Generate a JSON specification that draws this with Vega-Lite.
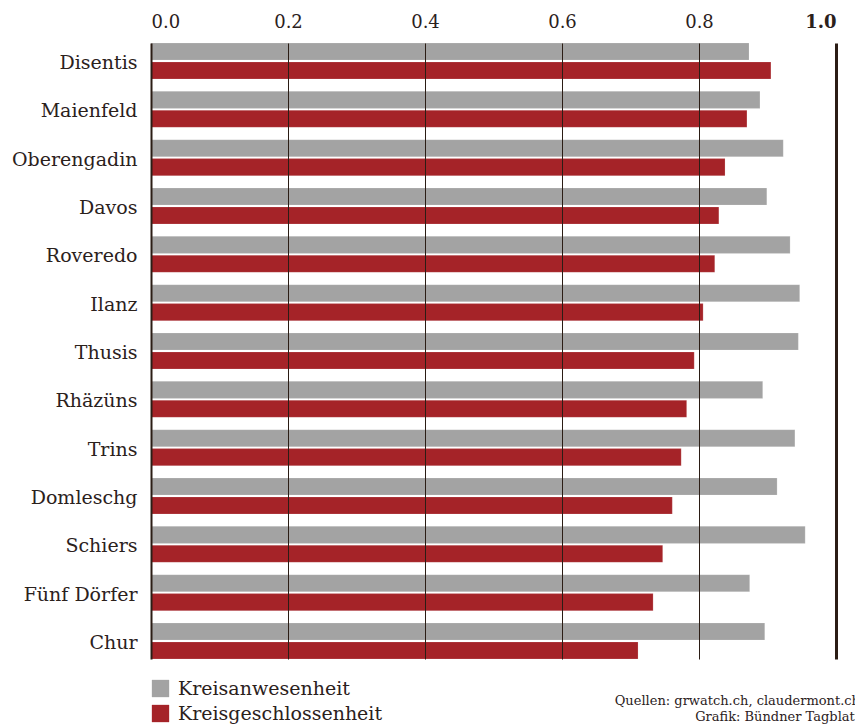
{
  "$schema": "https://vega.github.io/schema/vega-lite/v6.json",
  "autosize": "none",
  "width": 685,
  "height": 616,
  "padding": {"left": 151, "top": 43, "right": 19, "bottom": 67},
  "background": "white",
  "title": {
    "text": ["Quellen: grwatch.ch, claudermont.ch", "Grafik: Bündner Tagblatt"],
    "orient": "bottom",
    "anchor": "end",
    "frame": "group",
    "align": "right",
    "dx": 24,
    "offset": -29,
    "font": "DejaVu Serif",
    "fontSize": 13,
    "fontWeight": "normal",
    "color": "#2b211c",
    "lineHeight": 16
  },
  "data": {
    "values": [
      {"Kreis": "Disentis", "Serie": "Kreisanwesenheit", "Wert": 0.873},
      {"Kreis": "Disentis", "Serie": "Kreisgeschlossenheit", "Wert": 0.905},
      {"Kreis": "Maienfeld", "Serie": "Kreisanwesenheit", "Wert": 0.889},
      {"Kreis": "Maienfeld", "Serie": "Kreisgeschlossenheit", "Wert": 0.870},
      {"Kreis": "Oberengadin", "Serie": "Kreisanwesenheit", "Wert": 0.923},
      {"Kreis": "Oberengadin", "Serie": "Kreisgeschlossenheit", "Wert": 0.838},
      {"Kreis": "Davos", "Serie": "Kreisanwesenheit", "Wert": 0.899},
      {"Kreis": "Davos", "Serie": "Kreisgeschlossenheit", "Wert": 0.829},
      {"Kreis": "Roveredo", "Serie": "Kreisanwesenheit", "Wert": 0.933},
      {"Kreis": "Roveredo", "Serie": "Kreisgeschlossenheit", "Wert": 0.823},
      {"Kreis": "Ilanz", "Serie": "Kreisanwesenheit", "Wert": 0.947},
      {"Kreis": "Ilanz", "Serie": "Kreisgeschlossenheit", "Wert": 0.806},
      {"Kreis": "Thusis", "Serie": "Kreisanwesenheit", "Wert": 0.945},
      {"Kreis": "Thusis", "Serie": "Kreisgeschlossenheit", "Wert": 0.793},
      {"Kreis": "Rhäzüns", "Serie": "Kreisanwesenheit", "Wert": 0.893},
      {"Kreis": "Rhäzüns", "Serie": "Kreisgeschlossenheit", "Wert": 0.782},
      {"Kreis": "Trins", "Serie": "Kreisanwesenheit", "Wert": 0.940},
      {"Kreis": "Trins", "Serie": "Kreisgeschlossenheit", "Wert": 0.774},
      {"Kreis": "Domleschg", "Serie": "Kreisanwesenheit", "Wert": 0.914},
      {"Kreis": "Domleschg", "Serie": "Kreisgeschlossenheit", "Wert": 0.761},
      {"Kreis": "Schiers", "Serie": "Kreisanwesenheit", "Wert": 0.955},
      {"Kreis": "Schiers", "Serie": "Kreisgeschlossenheit", "Wert": 0.747},
      {"Kreis": "Fünf Dörfer", "Serie": "Kreisanwesenheit", "Wert": 0.874},
      {"Kreis": "Fünf Dörfer", "Serie": "Kreisgeschlossenheit", "Wert": 0.733},
      {"Kreis": "Chur", "Serie": "Kreisanwesenheit", "Wert": 0.896},
      {"Kreis": "Chur", "Serie": "Kreisgeschlossenheit", "Wert": 0.711}
    ]
  },
  "mark": {"type": "bar", "stroke": "#ffffff", "strokeOpacity": 0.35, "strokeWidth": 0.5},
  "encoding": {
    "y": {
      "field": "Kreis",
      "type": "nominal",
      "sort": null,
      "scale": {"paddingInner": 0.255, "paddingOuter": 0},
      "axis": {
        "title": null,
        "domain": false,
        "ticks": false,
        "grid": false,
        "labelPadding": 14,
        "labelOffset": 2,
        "labelFont": "DejaVu Serif",
        "labelFontSize": 19,
        "labelColor": "#2b211c",
        "labelLimit": 200
      }
    },
    "yOffset": {
      "field": "Serie",
      "type": "nominal",
      "scale": {"paddingInner": 0.1, "paddingOuter": 0}
    },
    "x": {
      "field": "Wert",
      "type": "quantitative",
      "scale": {"domain": [0, 1], "nice": false},
      "axis": {
        "orient": "top",
        "title": null,
        "domain": false,
        "ticks": false,
        "grid": true,
        "zindex": 1,
        "values": [0, 0.2, 0.4, 0.6, 0.8, 1.0],
        "format": ".1f",
        "labelPadding": 12,
        "labelFont": "DejaVu Serif",
        "labelFontSize": 18,
        "labelColor": "#2b211c",
        "labelFontWeight": {"condition": {"test": "datum.value === 1", "value": "bold"}, "value": "normal"},
        "gridColor": "#2b1d15",
        "gridOpacity": 1,
        "gridWidth": {"condition": [{"test": "datum.value === 1", "value": 3}, {"test": "datum.value === 0", "value": 2}], "value": 1}
      }
    },
    "color": {
      "field": "Serie",
      "type": "nominal",
      "scale": {"domain": ["Kreisanwesenheit", "Kreisgeschlossenheit"], "range": ["#a3a3a3", "#a52328"]},
      "legend": {
        "title": null,
        "orient": "none",
        "legendX": 0,
        "legendY": 636,
        "direction": "vertical",
        "symbolType": "square",
        "symbolSize": 300,
        "symbolStrokeWidth": 0,
        "labelFont": "DejaVu Serif",
        "labelFontSize": 19,
        "labelColor": "#2b211c",
        "labelOffset": 8,
        "labelLimit": 400,
        "rowPadding": 5
      }
    }
  },
  "config": {"view": {"stroke": null}}
}
